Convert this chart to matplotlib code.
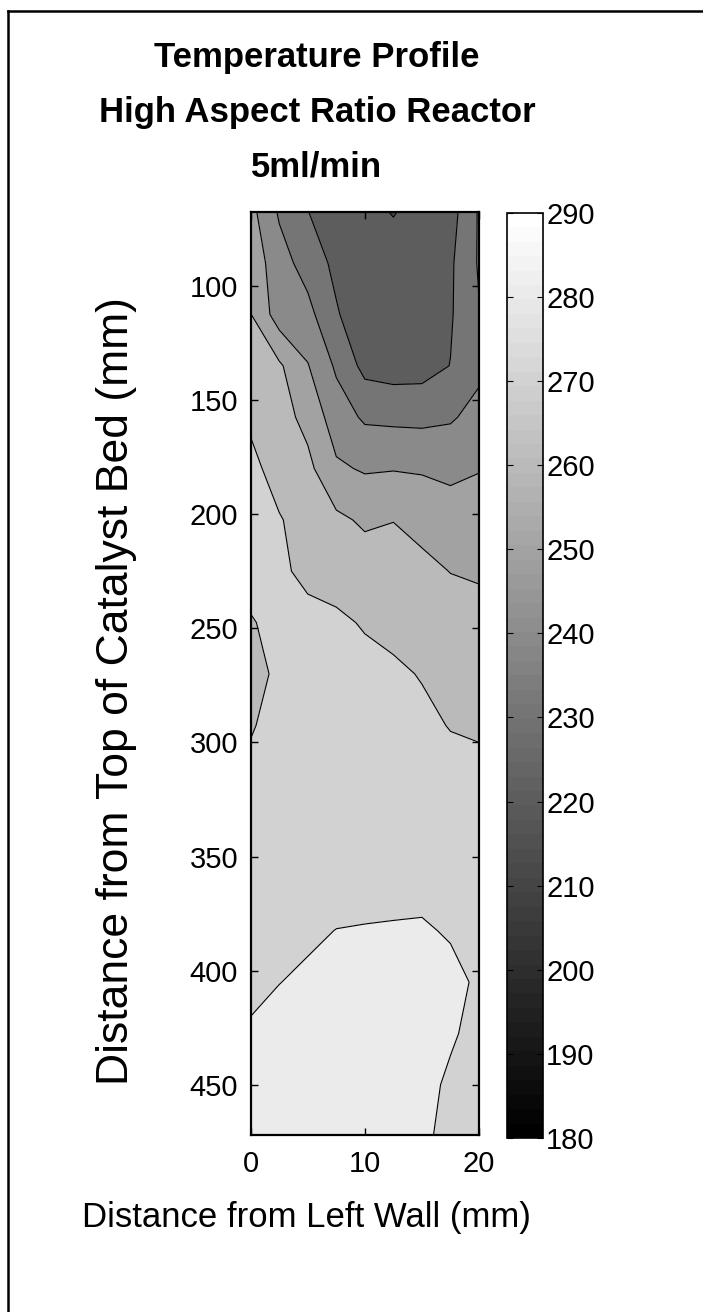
import numpy as np
import matplotlib
matplotlib.use('Agg')
import matplotlib.pyplot as plt
from matplotlib.colors import Normalize
from matplotlib.cm import ScalarMappable
from matplotlib.lines import Line2D

plt.rcParams['font.family'] = ['Liberation Sans', 'DejaVu Sans']

# thermocouple grid (mm) and temperatures
x_mm = [0, 2.5, 5, 7.5, 10, 12.5, 15, 17.5, 20]
y_mm = [67.5, 90, 112.5, 135, 157.5, 180, 202.5, 225, 247.5, 270,
        292.5, 315, 337.5, 360, 382.5, 405, 427.5, 450, 472.5]
temps = [
    [253.0, 238.8, 230.2, 224.0, 221.5, 219.7, 222.0, 226.0, 241.0],
    [256.5, 244.0, 236.0, 227.5, 222.5, 222.5, 222.5, 228.5, 241.0],
    [260.3, 245.0, 243.0, 231.0, 223.0, 222.5, 222.5, 229.0, 239.5],
    [264.5, 261.5, 250.5, 238.5, 227.0, 225.5, 226.0, 230.2, 237.5],
    [268.7, 264.0, 257.0, 245.0, 238.5, 237.8, 237.5, 238.8, 243.5],
    [272.0, 267.0, 262.5, 251.5, 249.0, 249.5, 249.0, 248.0, 249.7],
    [273.0, 270.5, 267.0, 262.0, 258.5, 259.8, 257.0, 254.0, 253.0],
    [272.5, 271.5, 268.0, 266.5, 265.0, 264.0, 262.5, 259.8, 259.0],
    [269.5, 272.0, 272.5, 271.5, 269.3, 267.5, 266.0, 264.5, 263.0],
    [265.5, 272.5, 274.0, 273.5, 272.5, 271.5, 269.5, 267.5, 266.0],
    [269.3, 273.0, 274.5, 274.5, 274.0, 273.5, 272.0, 269.6, 269.0],
    [272.0, 274.5, 275.5, 275.5, 275.0, 274.5, 274.0, 273.0, 272.0],
    [273.0, 275.5, 276.5, 276.5, 276.5, 276.0, 276.0, 275.0, 274.0],
    [274.5, 276.5, 277.5, 277.5, 278.0, 278.0, 278.3, 277.0, 275.5],
    [276.0, 277.5, 279.0, 280.1, 280.3, 280.5, 280.6, 279.5, 277.0],
    [278.0, 279.9, 281.0, 282.0, 282.5, 282.5, 282.3, 281.5, 279.2],
    [281.0, 282.0, 283.0, 283.5, 284.0, 284.0, 283.0, 280.6, 278.5],
    [283.0, 283.5, 284.0, 284.5, 284.5, 284.0, 281.5, 279.2, 278.0],
    [284.0, 284.0, 284.5, 285.0, 285.0, 284.0, 281.0, 278.5, 277.5],
]
levels = [210, 220, 230, 240, 250, 260, 270, 280, 290]
x_ticks = [0, 10, 20]
y_ticks = [100, 150, 200, 250, 300, 350, 400, 450]
cbar_ticks = [180, 190, 200, 210, 220, 230, 240, 250, 260, 270, 280, 290]

W, H = 703, 1312
fig = plt.figure(figsize=(W / 100, H / 100), dpi=100)

cmap = plt.get_cmap('gray', 64)
norm = Normalize(vmin=180, vmax=290)
fills = [cmap(norm(l)) for l in levels[:-1]]  # band coloured by its lower level

ax = fig.add_axes([250.7 / W, 177 / H, 228.3 / W, 923.3 / H])
X, Y = np.meshgrid(x_mm, y_mm)
Z = np.array(temps)
ax.contourf(X, Y, Z, levels=levels, colors=fills)
ax.contour(X, Y, Z, levels=levels, colors='k', linewidths=0.8)
ax.set_xlim(0, 20)
ax.set_ylim(472, 67.5)
ax.set_xticks(x_ticks)
ax.set_yticks(y_ticks)
ax.tick_params(direction='in', top=True, right=True, length=5, width=1,
               labelsize=21)
ax.tick_params(axis='x', pad=11)
ax.tick_params(axis='y', pad=9)
for s in ax.spines.values():
    s.set_linewidth(1.6)

cax = fig.add_axes([506.7 / W, 174 / H, 36.6 / W, 925.3 / H])
cb = fig.colorbar(ScalarMappable(norm=norm, cmap=cmap), cax=cax)
cb.set_ticks(cbar_ticks)
cax.tick_params(direction='in', left=True, right=True, length=4, width=0.8,
                labelsize=21, pad=2)
cb.outline.set_linewidth(1.2)

title_lines = ['Temperature Profile', 'High Aspect Ratio Reactor', '5ml/min']
for t, yb in zip(title_lines, [66.7, 121.7, 176.7]):
    fig.text(317 / W, 1 - yb / H, t, ha='center', va='baseline',
             fontsize=25, fontweight='bold')

fig.text(306.5 / W, 1 - 1226.7 / H, 'Distance from Left Wall (mm)',
         ha='center', va='baseline', fontsize=25)
fig.text(117 / W, 1 - 691 / H, 'Distance from Top of Catalyst Bed (mm)',
         ha='center', va='center', rotation=90, fontsize=32)

# frame lines at the top and left of the exported figure
fig.add_artist(Line2D([8 / W, 8 / W], [0, 1 - 11 / H], color='k', lw=1.8,
                      transform=fig.transFigure))
fig.add_artist(Line2D([8 / W, 1], [1 - 11 / H, 1 - 11 / H], color='k', lw=1.8,
                      transform=fig.transFigure))

fig.savefig('out.png', dpi=100)
